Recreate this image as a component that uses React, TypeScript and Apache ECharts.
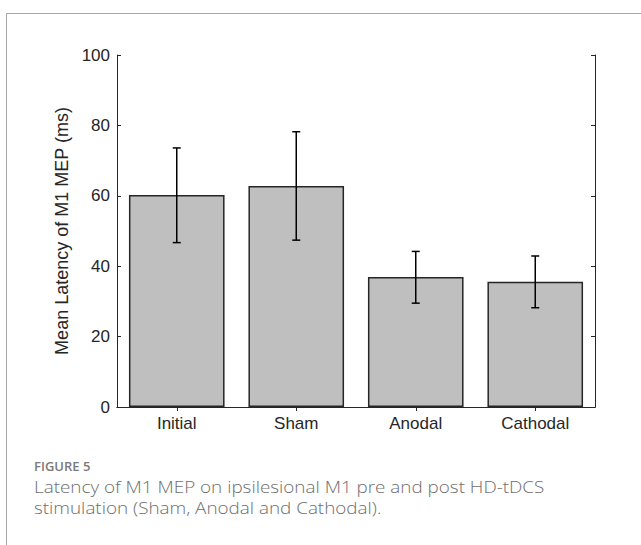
import React, { useEffect, useRef } from "react";
import * as echarts from "echarts";

const categories = ["Initial", "Sham", "Anodal", "Cathodal"];
const meanValues = [60.2, 62.8, 36.9, 35.6];
const errorLow = [46.7, 47.4, 29.5, 28.2];
const errorHigh = [73.6, 78.2, 44.2, 42.9];
const yTicks = { min: 0, max: 100, interval: 20 };

const captionTitle = "FIGURE 5";
const captionLines = [
  "Latency of M1 MEP on ipsilesional M1 pre and post HD-tDCS",
  "stimulation (Sham, Anodal and Cathodal).",
];

export default function App() {
  const ref = useRef<HTMLDivElement>(null);
  useEffect(() => {
    if (!ref.current) return;
    const chart = echarts.init(ref.current, null, { renderer: "svg" });
    const axisColor = "#262626";
    const font = "'Liberation Sans', Arial, sans-serif";
    const errData = categories.map((_, i) => [i, errorLow[i], errorHigh[i]]);
    const tick = { show: true, inside: true, alignWithLabel: true, length: 4, lineStyle: { color: axisColor, width: 1 } };
    const captionStyle = {
      fill: "#6e6e6e",
      fontSize: 17,
      fontWeight: 300,
      fontFamily: "'Open Sans', sans-serif",
      verticalAlign: "middle",
    };
    chart.setOption({
      animation: false,
      backgroundColor: "#ffffff",
      grid: { left: 117, top: 55, width: 478, height: 352, containLabel: false },
      xAxis: [
        {
          type: "category",
          data: categories,
          position: "bottom",
          boundaryGap: true,
          axisLine: { lineStyle: { color: axisColor, width: 1 } },
          axisTick: tick,
          axisLabel: { color: axisColor, fontSize: 17, fontFamily: font, margin: 8 },
          splitLine: { show: false },
        },
        {
          type: "category",
          data: categories,
          position: "top",
          boundaryGap: true,
          axisLine: { show: true, lineStyle: { color: axisColor, width: 1 } },
          axisTick: tick,
          axisLabel: { show: false },
          splitLine: { show: false },
        },
      ],
      yAxis: [
        {
          type: "value",
          min: yTicks.min,
          max: yTicks.max,
          interval: yTicks.interval,
          position: "left",
          name: "Mean Latency of M1 MEP (ms)",
          nameLocation: "middle",
          nameRotate: 90,
          nameGap: 44,
          nameTextStyle: { color: axisColor, fontSize: 18, fontFamily: font },
          axisLine: { show: true, lineStyle: { color: axisColor, width: 1 } },
          axisTick: tick,
          axisLabel: { color: axisColor, fontSize: 17, fontFamily: font, margin: 7 },
          splitLine: { show: false },
        },
        {
          type: "value",
          min: yTicks.min,
          max: yTicks.max,
          interval: yTicks.interval,
          position: "right",
          axisLine: { show: true, lineStyle: { color: axisColor, width: 1 } },
          axisTick: tick,
          axisLabel: { show: false },
          splitLine: { show: false },
        },
      ],
      series: [
        {
          type: "bar",
          data: meanValues,
          barWidth: "80%",
          itemStyle: { color: "#bfbfbf", borderColor: axisColor, borderWidth: 1.5 },
          z: 2,
        },
        {
          type: "custom",
          data: errData,
          z: 3,
          renderItem: (params: any, api: any) => {
            const i = api.value(0);
            const lo = api.coord([i, api.value(1)]);
            const hi = api.coord([i, api.value(2)]);
            const cap = 4;
            const style = { stroke: "#000000", lineWidth: 1.5 };
            return {
              type: "group",
              children: [
                { type: "line", shape: { x1: hi[0], y1: hi[1], x2: lo[0], y2: lo[1] }, style },
                { type: "line", shape: { x1: hi[0] - cap, y1: hi[1], x2: hi[0] + cap, y2: hi[1] }, style },
                { type: "line", shape: { x1: lo[0] - cap, y1: lo[1], x2: lo[0] + cap, y2: lo[1] }, style },
              ],
            };
          },
        },
      ],
      graphic: [
        { type: "line", shape: { x1: 6, y1: 13.5, x2: 641, y2: 13.5 }, style: { stroke: "#a8a8a8", lineWidth: 1 } },
        { type: "line", shape: { x1: 6.5, y1: 13, x2: 6.5, y2: 545 }, style: { stroke: "#a8a8a8", lineWidth: 1 } },
        {
          type: "text",
          x: 34,
          y: 466,
          style: { text: captionTitle, fill: "#7a7a7a", fontSize: 13, fontWeight: 600, fontFamily: "'Open Sans', sans-serif", verticalAlign: "middle" },
        },
        {
          type: "text",
          x: 34,
          y: 486.5,
          scaleX: 1.11,
          style: { ...captionStyle, text: captionLines[0] },
        },
        {
          type: "text",
          x: 34,
          y: 507.5,
          scaleX: 1.11,
          style: { ...captionStyle, text: captionLines[1] },
        },
      ],
    });
    return () => chart.dispose();
  }, []);
  return (
    <div style={{ position: "absolute", left: 0, top: 0, width: 641, height: 545, background: "#fff" }}>
      <div ref={ref} style={{ width: 641, height: 545 }} />
    </div>
  );
}
